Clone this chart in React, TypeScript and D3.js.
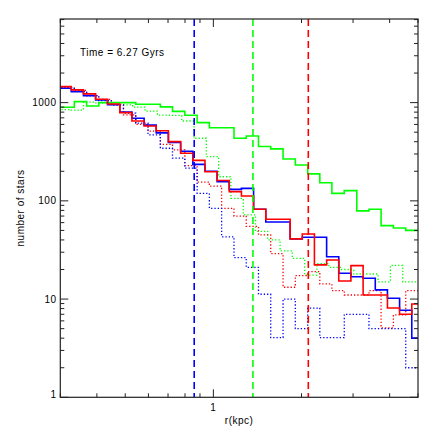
import React from 'react';
import * as d3 from 'd3';

// bin edges in kpc (each run was binned on its own grid)
const rEdgesA = [0.276, 0.304, 0.335, 0.369, 0.406, 0.448, 0.493, 0.543, 0.598, 0.659, 0.725, 0.799, 0.880, 0.969, 1.067, 1.176, 1.295, 1.426, 1.570, 1.730, 1.905, 2.100, 2.310, 2.540, 2.800, 3.090, 3.400, 3.740, 4.120, 4.540, 5.000];
const rEdgesB = [0.297, 0.327, 0.360, 0.396, 0.435, 0.479, 0.527, 0.580, 0.638, 0.702, 0.773, 0.851, 0.936, 1.030, 1.133, 1.247, 1.372, 1.510, 1.662, 1.829, 2.012, 2.214, 2.437, 2.681, 2.950, 3.247, 3.573, 3.932, 4.326, 4.761, 5.239];
const rEdgesC = [0.270, 0.297, 0.327, 0.360, 0.397, 0.438, 0.481, 0.530, 0.584, 0.644, 0.708, 0.780, 0.859, 0.946, 1.042, 1.148, 1.265, 1.393, 1.533, 1.690, 1.860, 2.051, 2.256, 2.481, 2.734, 3.018, 3.320, 3.652, 4.024, 4.434, 4.883, 5.377];

// star counts per bin
const greenSolid = [898, 898, 1023, 925, 1000, 1000, 1000, 964, 964, 905, 815, 745, 626, 555, 555, 434, 458, 357, 338, 267, 232, 188, 153, 119, 127, 79, 82, 56, 53, 50];
const redSolid = [1455, 1347, 1227, 1083, 968, 790, 650, 578, 518, 401, 305, 258, 198, 161, 124, 112, 82, 65, 65, 41, 46, 22.3, 25, 15.3, 21.9, 11, 11, 8.1, 7.0, 8.9];
const blueSolid = [1402, 1294, 1178, 1066, 950, 800, 694, 590, 492, 392, 320, 235, 200, 157, 131, 134, 82, 61, 61, 41, 42.6, 42.6, 27, 18.3, 16.9, 16.3, 12.4, 10.2, 7.7, 4.0];
const redDotted = [1480, 1400, 1330, 1180, 1080, 950, 750, 600, 512, 375, 330, 228, 155, 141, 84, 70, 55, 45, 29, 13.2, 17.3, 19, 14.3, 12.2, 11, 11, 12.2, 5.1, 6.9, 12.2];
const blueDotted = [1480, 1420, 1300, 1180, 1050, 947, 780, 617, 470, 343, 272, 215, 119, 84, 43, 26.4, 21, 11.2, 4.05, 10, 5.0, 8.1, 4.05, 4.05, 7.0, 7.0, 5.0, 5.0, 5.0, 2.0];
const greenDotted = [890, 850, 840, 1010, 993, 960, 950, 898, 820, 745, 740, 650, 434, 282, 176, 106, 72, 49, 40, 31, 26, 17.5, 23, 21, 20, 18, 18, 15, 22, 15, 15];

// dashed markers (kpc)
const markerR = [0.86, 1.365, 2.11];
const markerColors = ['#0000ff', '#00ff00', '#ff0000'];

const yLabels = [1, 10, 100, 1000];
const timeLabel = 'Time = 6.27 Gyrs';

export default function App() {
    const width = 436;
    const height = 436;
    const left = 60.3, right = 418, top = 19, bottom = 397.3;

    const x = d3.scaleLog().domain([0.3, 5]).range([left, right]);
    const y = d3.scaleLog().domain([1, 7100]).range([bottom, top]);

    const stepPath = (edges: number[], vals: number[]) => {
        const pts: [number, number][] = vals.map((v, i) => [edges[i], v]);
        pts.push([edges[vals.length], vals[vals.length - 1]]);
        return d3.line<[number, number]>()
            .x(d => x(d[0]))
            .y(d => y(d[1]))
            .curve(d3.curveStepAfter)(pts) || '';
    };

    const series = [
        { edges: rEdgesC, vals: greenDotted, color: '#00ff00', dotted: true },
        { edges: rEdgesA, vals: redDotted, color: '#ff0000', dotted: true },
        { edges: rEdgesA, vals: blueDotted, color: '#0000ff', dotted: true },
        { edges: rEdgesA, vals: greenSolid, color: '#00ff00', dotted: false },
        { edges: rEdgesB, vals: blueSolid, color: '#0000ff', dotted: false },
        { edges: rEdgesB, vals: redSolid, color: '#ff0000', dotted: false },
    ];

    const isMajor = (v: number) => Math.abs(Math.log10(v) - Math.round(Math.log10(v))) < 1e-6;
    const yTicks = y.ticks();
    const xTicks = x.ticks();
    const font = 'Liberation Sans, Arial, Helvetica, sans-serif';
    const axisColor = '#222';

    return (
        <svg width={width} height={height} style={{ position: 'absolute', left: 0, top: 0, background: '#fff' }}>
            <defs>
                <clipPath id="plot">
                    <rect x={left} y={top} width={right - left} height={bottom - top} />
                </clipPath>
            </defs>
            <g clipPath="url(#plot)" fill="none">
                {series.map((s, i) => (
                    <path key={i} d={stepPath(s.edges, s.vals)} stroke={s.color}
                        strokeWidth={s.dotted ? 1.3 : 1.6}
                        strokeDasharray={s.dotted ? '1.3,2' : undefined} />
                ))}
                {markerR.map((r, i) => (
                    <line key={'m' + i} x1={x(r)} x2={x(r)} y1={top} y2={bottom}
                        stroke={markerColors[i]} strokeWidth={1.6} strokeDasharray="7,4" />
                ))}
            </g>
            {/* frame */}
            <rect x={left} y={top} width={right - left} height={bottom - top} fill="none" stroke={axisColor} strokeWidth={1.2} />
            {yTicks.map((t, i) => {
                const len = isMajor(t) ? 8 : 4;
                const yy = y(t);
                return (
                    <g key={'y' + i} stroke={axisColor} strokeWidth={1}>
                        <line x1={left} x2={left + len} y1={yy} y2={yy} />
                        <line x1={right} x2={right - len} y1={yy} y2={yy} />
                    </g>
                );
            })}
            {xTicks.map((t, i) => {
                const len = isMajor(t) ? 8 : 4;
                const xx = x(t);
                return (
                    <g key={'x' + i} stroke={axisColor} strokeWidth={1}>
                        <line x1={xx} x2={xx} y1={bottom} y2={bottom - len} />
                        <line x1={xx} x2={xx} y1={top} y2={top + len} />
                    </g>
                );
            })}
            <g fontFamily={font} fontSize={10} fill="#000" letterSpacing={0.5}>
                {yLabels.map(v => (
                    <text key={'yl' + v} x={56.5} y={Math.min(y(v), 394)} textAnchor="end" dominantBaseline="central">{v}</text>
                ))}
                <text x={x(1)} y={411} textAnchor="middle">1</text>
                <text x={(left + right) / 2} y={424} textAnchor="middle">r(kpc)</text>
                <text transform="translate(24,208) rotate(-90)" textAnchor="middle">number of stars</text>
                <text x={80} y={56} style={{ whiteSpace: 'pre' }}>{timeLabel}</text>
            </g>
        </svg>
    );
}
